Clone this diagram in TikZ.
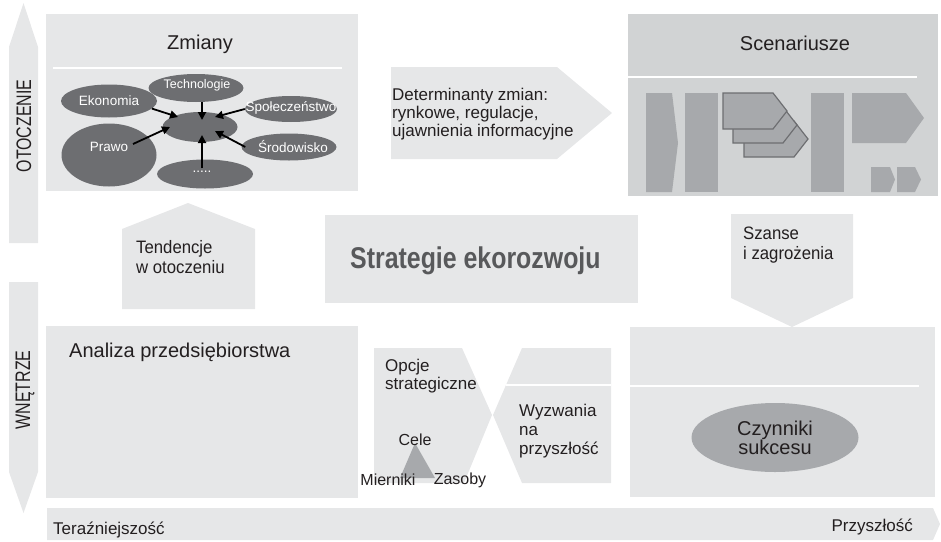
\documentclass[tikz,border=0pt]{standalone}
\usepackage{fontspec}
\setmainfont{Liberation Sans}
\newfontfamily\condfont[FakeStretch=0.93]{Liberation Sans}
\newfontfamily\sidefont[FakeStretch=0.76]{Liberation Sans}
\newfontfamily\headfont[FakeStretch=0.83]{Liberation Sans}
\usetikzlibrary{shapes.geometric,arrows.meta}
\definecolor{pale}{HTML}{E6E7E8}
\definecolor{panel}{HTML}{D1D3D4}
\definecolor{mid}{HTML}{A7A9AC}
\definecolor{dark}{HTML}{6D6E71}
\definecolor{ink}{HTML}{231F20}
\definecolor{headgray}{HTML}{58595B}
\begin{document}
\begin{tikzpicture}[x=1pt,y=-1pt,
  lbl/.style={inner sep=0pt, text=ink},
  fa/.style={font=\fontsize{17}{18}\selectfont},
  fb/.style={font=\fontsize{20}{20}\selectfont},
  fc/.style={font=\condfont\fontsize{18}{20}\selectfont},
  fs/.style={font=\sidefont\fontsize{21}{21}\selectfont},
  oval/.style={ellipse, fill=dark, inner sep=0pt},
  ovaltext/.style={inner sep=0pt, text=white, font=\fontsize{13.5}{15}\selectfont},
  arr/.style={draw=black, line width=1.8pt, -{Triangle[length=8pt,width=8pt]}},
  sep/.style={draw=white, line width=1.5pt},
  stack/.style={fill=mid, draw=dark, line width=1.2pt, line join=miter},
]
\useasboundingbox (0,0) rectangle (941,541);

% side arrows: environment (up) and interior (down)
\fill[pale] (9,243) -- (9,47) -- (23.5,3) -- (38,47) -- (38,243) -- cycle;
\fill[pale] (9,282) -- (9,472) -- (23.5,513) -- (38,472) -- (38,282) -- cycle;
\node[lbl, rotate=90, fs] (env) at (24,126) {OTOCZENIE};
\node[lbl, rotate=90, fs] (inner) at (25,390) {WNĘTRZE};

% time axis
\fill[pale] (47,508) -- (933,508) -- (940,524) -- (933,540) -- (47,540) -- cycle;
\node[lbl, fa, anchor=base west] (now) at (53,534) {Teraźniejszość};
\node[lbl, fa, anchor=base east] (future) at (913,531) {Przyszłość};

% changes panel
\fill[pale] (46,14) rectangle (358,191);
\draw[sep] (53,68) -- (342,68);
\node[lbl, fb, anchor=base] (zmiany) at (200,49) {Zmiany};
\node[oval, minimum width=95pt, minimum height=28pt] (tech) at (196,88) {};
\node[oval, minimum width=96pt, minimum height=33pt] (eko) at (109,101) {};
\node[oval, minimum width=92pt, minimum height=26pt] (spol) at (291,109) {};
\node[oval, minimum width=75pt, minimum height=30pt] (core) at (200,127) {};
\node[oval, minimum width=95pt, minimum height=63pt] (prawo) at (109,155) {};
\node[oval, minimum width=95pt, minimum height=27pt] (srod) at (289,147) {};
\node[oval, minimum width=96pt, minimum height=29pt] (dots) at (205,174) {};
\node[ovaltext, font=\fontsize{12.5}{14}\selectfont] (techL) at (197,85) {Technologie};
\node[ovaltext] (ekoL) at (109,101) {Ekonomia};
\node[ovaltext] (spolL) at (291,108) {Społeczeństwo};
\node[ovaltext] (prawoL) at (109,147) {Prawo};
\node[ovaltext] (srodL) at (293,147) {Środowisko};
\node[ovaltext] (dotsL) at (202,172) {.....};
\draw[arr] (eko.-10) -- ([shift={(-22,-10)}]core.center);
\draw[arr] ([xshift=6pt]tech.south) -- ([shift={(2,-7)}]core.center);
\draw[arr] (spol.west) -- ([shift={(15,-10)}]core.center);
\draw[arr] ([shift={(24,-11)}]prawo.center) -- ([shift={(-30,0)}]core.center);
\draw[arr] ([xshift=4pt]srod.west) -- ([shift={(15,4)}]core.center);
\draw[arr] ([shift={(-3,-6)}]dots.center) -- ([shift={(2,8)}]core.center);

% drivers arrow (multi-line labels are placed by the baseline of their last line)
\fill[pale] (391,67) -- (557,67) -- (612,113) -- (557,159) -- (391,159) -- cycle;
\node[lbl, fa, anchor=base west, align=left] (drivers) at (392,136)
  {Determinanty zmian:\\rynkowe, regulacje,\\ujawnienia informacyjne};

% scenarios panel
\fill[panel] (628,14) rectangle (938,196);
\draw[sep] (628,77) -- (917,77);
\node[lbl, fb, anchor=base] (scen) at (795,50) {Scenariusze};
\fill[mid] (646,93) -- (672,93) -- (678,143) -- (672,192) -- (646,192) -- cycle;
\fill[mid] (685,93) rectangle (718,192);
\foreach \dx/\dy in {21/28, 10/14, 0/0}
  \draw[stack, shift={(\dx,\dy)}] (723,93) -- (773,93) -- (787,111) -- (773,129) -- (723,129) -- cycle;
\fill[mid] (811,93) rectangle (844,192);
\fill[mid] (852,93) -- (906,93) -- (924,118) -- (906,143) -- (852,143) -- cycle;
\fill[mid] (871,167) -- (890,167) -- (895,179.5) -- (890,192) -- (871,192) -- cycle;
\fill[mid] (897,167) -- (915,167) -- (921,179.5) -- (915,192) -- (897,192) -- cycle;

% trends arrow
\fill[pale] (122,309) -- (122,229) -- (188,203) -- (255,229) -- (255,309) -- cycle;
\node[lbl, fc, anchor=base west, align=left] (trends) at (136,273) {Tendencje\\w otoczeniu};

% central strategy box
\fill[pale] (325,215) rectangle (638,303);
\node[inner sep=0pt, text=headgray, anchor=base west,
  font=\headfont\bfseries\fontsize{30}{30}\selectfont] (strat) at (350,268) {Strategie ekorozwoju};

% opportunities arrow
\fill[pale] (731,214) -- (853,214) -- (853,298) -- (792,327) -- (731,298) -- cycle;
\node[lbl, fc, anchor=base west, align=left] (chances) at (743,259) {Szanse\\i zagrożenia};

% company analysis panel
\fill[pale] (46,326) rectangle (358,498);
\node[lbl, fb, anchor=base west] (analiza) at (69,357) {Analiza przedsiębiorstwa};

% options and challenges
\fill[pale] (374,348) -- (462,348) -- (492,415) -- (464,483) -- (374,483) -- cycle;
\fill[pale] (522,348) -- (611,348) -- (611,483) -- (522,483) -- (493,415) -- cycle;
\draw[sep] (506,385) -- (611,385);
\node[lbl, fa, anchor=base west, align=left] (opcje) at (385,389) {Opcje\\strategiczne};
\node[lbl, anchor=base west, align=left, font=\fontsize{17}{19}\selectfont] (wyzw) at (519,454) {Wyzwania\\na\\przyszłość};
\fill[mid] (415,443) -- (435,478) -- (400,478) -- cycle;
\node[lbl, font=\fontsize{16}{16}\selectfont] (cele) at (415,440) {Cele};
\node[lbl, font=\fontsize{16}{16}\selectfont] (mierniki) at (388,480) {Mierniki};
\node[lbl, font=\fontsize{16}{16}\selectfont] (zasoby) at (460,480) {Zasoby};

% success factors panel
\fill[pale] (630,327) rectangle (935,497);
\draw[sep] (630,386) -- (919,386);
\node[ellipse, fill=mid, inner sep=0pt, minimum width=167pt, minimum height=69pt,
  text=ink, align=center, font=\fontsize{20}{19}\selectfont] (succ) at (775,437.5) {Czynniki\\sukcesu};
\end{tikzpicture}
\end{document}
